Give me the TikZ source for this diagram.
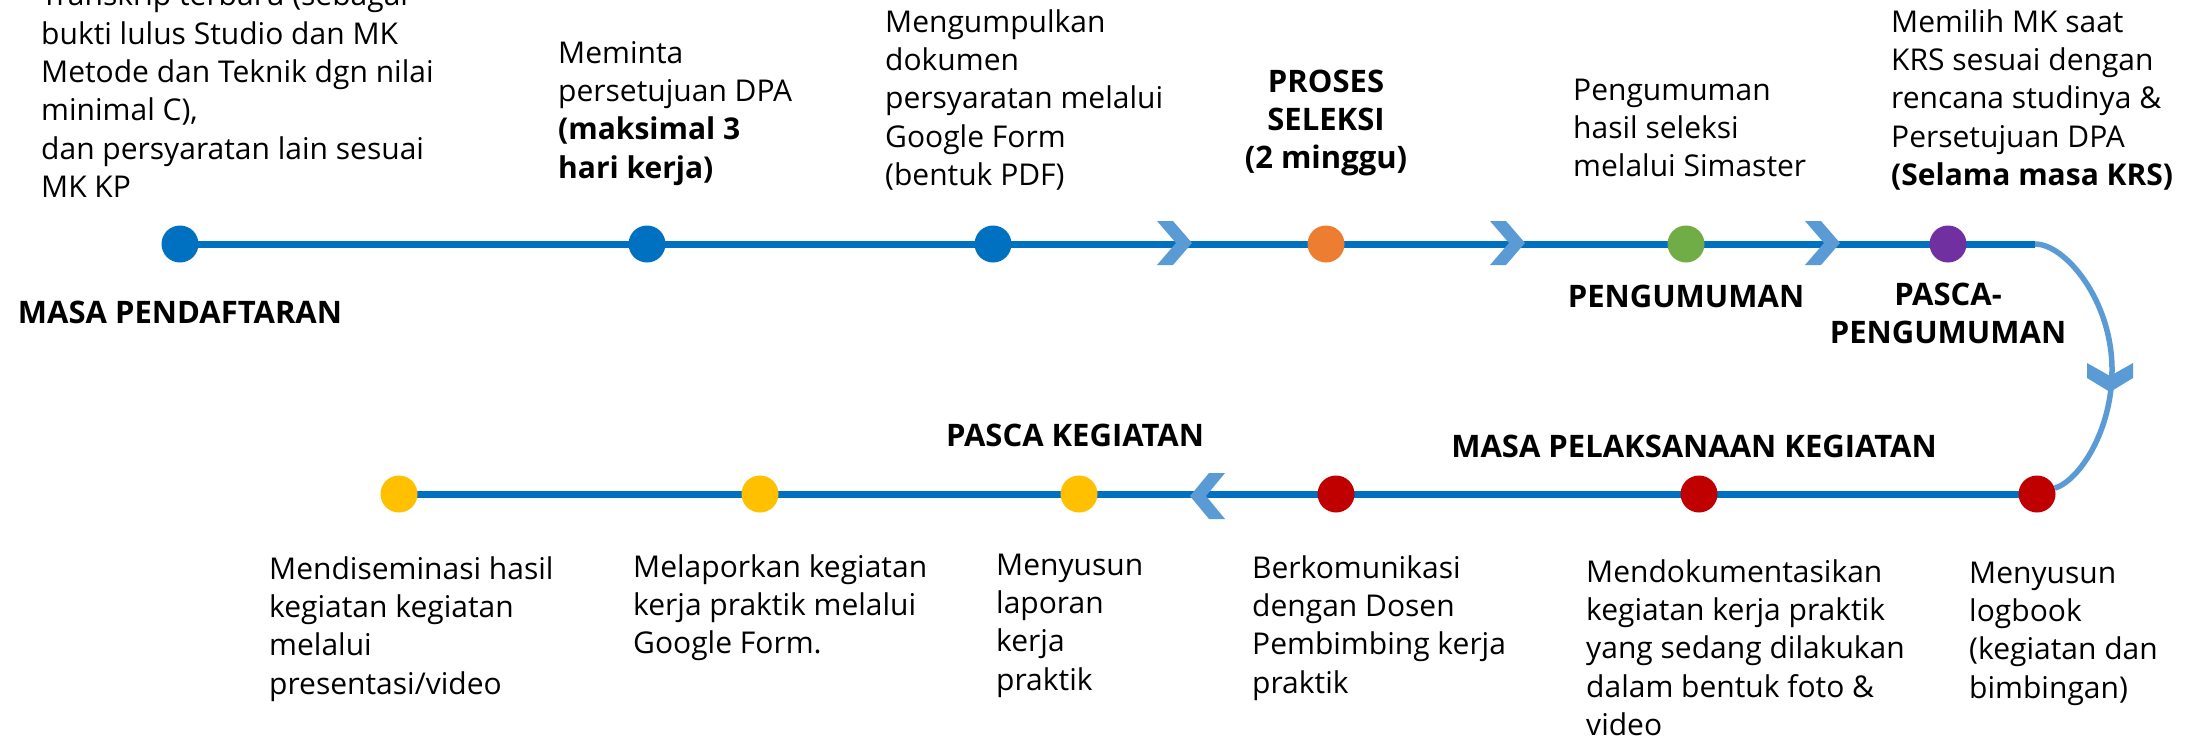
\documentclass[tikz,border=0pt]{standalone}
\usepackage{fontspec}
\setmainfont{Open Sans}
\pgfdeclarelayer{bg}
\pgfsetlayers{bg,main}
\definecolor{linedark}{HTML}{0070C0}
\definecolor{chevcol}{HTML}{5B9BD5}
\definecolor{dblue}{HTML}{0070C0}
\definecolor{dorange}{HTML}{ED7D31}
\definecolor{dgreen}{HTML}{70AD47}
\definecolor{dpurple}{HTML}{7030A0}
\definecolor{dred}{HTML}{C00000}
\definecolor{dyellow}{HTML}{FFC000}
\tikzset{
  dot/.style={circle, minimum size=37pt, inner sep=0pt, draw=none},
  mainline/.style={draw=linedark, line width=7pt},
  bendline/.style={draw=chevcol, line width=5.5pt},
  txt/.style={inner sep=0pt, font=\fontsize{30}{38.3}\selectfont, anchor=north west, yshift=26.81pt, align=left},
  lbl/.style={inner sep=0pt, font=\fontsize{31}{38.3}\selectfont\bfseries, anchor=north, yshift=26.81pt, align=center},
  chevr/.pic={\fill[chevcol] (-17.5,-22) -- (-1.5,-22) -- (17.5,0) -- (-1.5,22) -- (-17.5,22) -- (1.5,0) -- cycle;},
  chevl/.pic={\fill[chevcol] (17.5,-23) -- (1.5,-23) -- (-17.5,0) -- (1.5,23) -- (17.5,23) -- (-1.5,0) -- cycle;},
  chevd/.pic={\fill[chevcol] (-23,-15) -- (0,-2) -- (23,-15) -- (23,0) -- (0,14) -- (-23,0) -- cycle;}
}
\begin{document}
\begin{tikzpicture}[x=1pt,y=-1pt]
\useasboundingbox (0,0) rectangle (2199,739);

% top row dots
\node[dot, fill=dblue]   (d1) at (180,244) {};
\node[dot, fill=dblue]   (d2) at (647,244) {};
\node[dot, fill=dblue]   (d3) at (993,244) {};
\node[dot, fill=dorange] (d4) at (1326,244) {};
\node[dot, fill=dgreen]  (d5) at (1686,244) {};
\node[dot, fill=dpurple] (d6) at (1948,244) {};
\coordinate (ce) at (2035,244);
% bottom row dots
\node[dot, fill=dred]    (e1) at (2037,494) {};
\node[dot, fill=dred]    (e2) at (1699,494) {};
\node[dot, fill=dred]    (e3) at (1336,494) {};
\node[dot, fill=dyellow] (e4) at (1079,494) {};
\node[dot, fill=dyellow] (e5) at (760,494) {};
\node[dot, fill=dyellow] (e6) at (399,494) {};

\begin{pgfonlayer}{bg}
\fill[white] (0,0) rectangle (2199,739);
\draw[mainline] (d1.center) -- (ce);
\draw[mainline] (e1.center) -- (e6.center);
\end{pgfonlayer}
\draw[bendline] (ce) .. controls (2065,244) and (2112,300) .. (2112,370)
  .. controls (2112,430) and (2080,480) .. (e1);

% chevrons
\pic at (1174.5,243) {chevr};
\pic at (1507.5,243) {chevr};
\pic at (1822.5,243) {chevr};
\pic at (1207.5,496) {chevl};
\pic at (2110,378) {chevd};

% top texts
\node[txt] (t1) at (41,5.7) {\strut Transkrip terbaru (sebagai\\bukti lulus Studio dan MK\\Metode dan Teknik dgn nilai\\minimal C),\\dan persyaratan lain sesuai\\MK KP};
\node[txt] (t2) at (558,63) {\strut Meminta\\persetujuan DPA\\\textbf{(maksimal 3}\\\textbf{hari kerja)}};
\node[txt] (t3) at (885,32) {\strut Mengumpulkan\\dokumen\\persyaratan melalui\\Google Form\\(bentuk PDF)};
\node[lbl] (t4) at (1326,92) {\strut PROSES\\SELEKSI\\(2 minggu)};
\node[txt] (t5) at (1573,100) {\strut Pengumuman\\hasil seleksi\\melalui Simaster};
\node[txt] (t6) at (1891,32) {\strut Memilih MK saat\\KRS sesuai dengan\\rencana studinya \&\\Persetujuan DPA\\\textbf{(Selama masa KRS)}};

% phase labels
\node[lbl] (l1) at (180,323) {\strut MASA PENDAFTARAN};
\node[lbl] (l2) at (1686,307) {\strut PENGUMUMAN};
\node[lbl] (l3) at (1948,305) {\strut PASCA-\\PENGUMUMAN};
\node[lbl] (l4) at (1694,457) {\strut MASA PELAKSANAAN KEGIATAN};
\node[lbl] (l5) at (1075,446) {\strut PASCA KEGIATAN};

% bottom texts
\node[txt] (b1) at (269,579) {\strut Mendiseminasi hasil\\kegiatan kegiatan\\melalui\\presentasi/video};
\node[txt] (b2) at (633,577) {\strut Melaporkan kegiatan\\kerja praktik melalui\\Google Form.};
\node[txt] (b3) at (996,575) {\strut Menyusun\\laporan\\kerja\\praktik};
\node[txt] (b4) at (1252,578) {\strut Berkomunikasi\\dengan Dosen\\Pembimbing kerja\\praktik};
\node[txt] (b5) at (1586,582) {\strut Mendokumentasikan\\kegiatan kerja praktik\\yang sedang dilakukan\\dalam bentuk foto \&\\video};
\node[txt] (b6) at (1969,583) {\strut Menyusun\\logbook\\(kegiatan dan\\bimbingan)};
\end{tikzpicture}
\end{document}
